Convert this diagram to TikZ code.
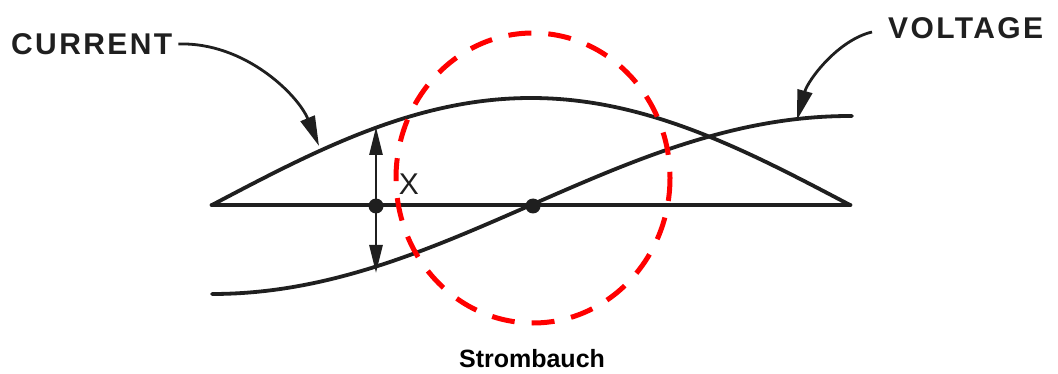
\documentclass[tikz,border=0pt]{standalone}
\usepackage{fontspec}
\setmainfont{Liberation Sans}
\usetikzlibrary{arrows.meta}
\tikzset{
  ink/.style={draw=black!88, line width=3.8pt},
  axisline/.style={draw=black!88, line width=4.8pt, line cap=round},
  pointer/.style={draw=black!88, line width=2.8pt, -{Triangle[length=30pt,width=15pt]}},
  dbl/.style={draw=black!88, line width=2.6pt, {Triangle[length=28pt,width=13pt]}-{Triangle[length=28pt,width=13pt]}},
  dot/.style={circle, fill=black!88, inner sep=0pt, minimum size=15pt},
  lbl/.style={font=\fontsize{30}{32}\selectfont\bfseries\addfontfeature{LetterSpace=8}, text=black!88, inner sep=0pt},
  caption/.style={font=\fontsize{25}{28}\selectfont\bfseries, text=black, inner sep=0pt},
  hoop/.style={draw=red, line width=5pt, dash pattern=on 23pt off 17pt}
}
\begin{document}
\begin{tikzpicture}[x=1pt,y=-1pt]
\useasboundingbox (0,0) rectangle (1058,374);
% axis
\coordinate (axL) at (212,205);
\coordinate (axR) at (850,205);
\draw[axisline] (axL) -- (axR);
% current curve
\draw[ink, line cap=round] plot[domain=212:850, samples=120, smooth] (\x, {205-107*sin((\x-212)/638*180)});
% voltage curve
\draw[ink, line cap=round] plot[domain=212:850, samples=120, smooth] (\x, {205-89*sin((\x-212)/638*180-90)}) -- (852,116);
% dots
\node[dot] (d1) at (376,206) {};
\node[dot] (d2) at (533,206) {};
% double arrow
\coordinate (xtop) at (376,127);
\coordinate (xbot) at (376,273);
\draw[dbl] (xtop) -- (xbot);
\node[font=\fontsize{30}{32}\selectfont, text=black!88, inner sep=0pt] (xl) at (409,184) {X};
% labels
\node[lbl, anchor=west] (cur) at (11,44) {CURRENT};
\node[lbl, anchor=west] (vol) at (888,28) {VOLTAGE};
\coordinate (curtip) at (319,146);
\coordinate (voltip) at (797,120);
\draw[pointer] (cur.east) ++(6,0) .. controls (245,42) and (298,95) .. (curtip);
\draw[pointer] (vol.west) ++(-16,4) .. controls (838,40) and (808,80) .. (voltip);
% red circle
\node[draw=none, inner sep=0pt] (hub) at (533,178) {};
\draw[hoop] (hub) ellipse [x radius=137, y radius=145];
% caption
\node[caption] (cap) at (532,359) {Strombauch};
\end{tikzpicture}
\end{document}
